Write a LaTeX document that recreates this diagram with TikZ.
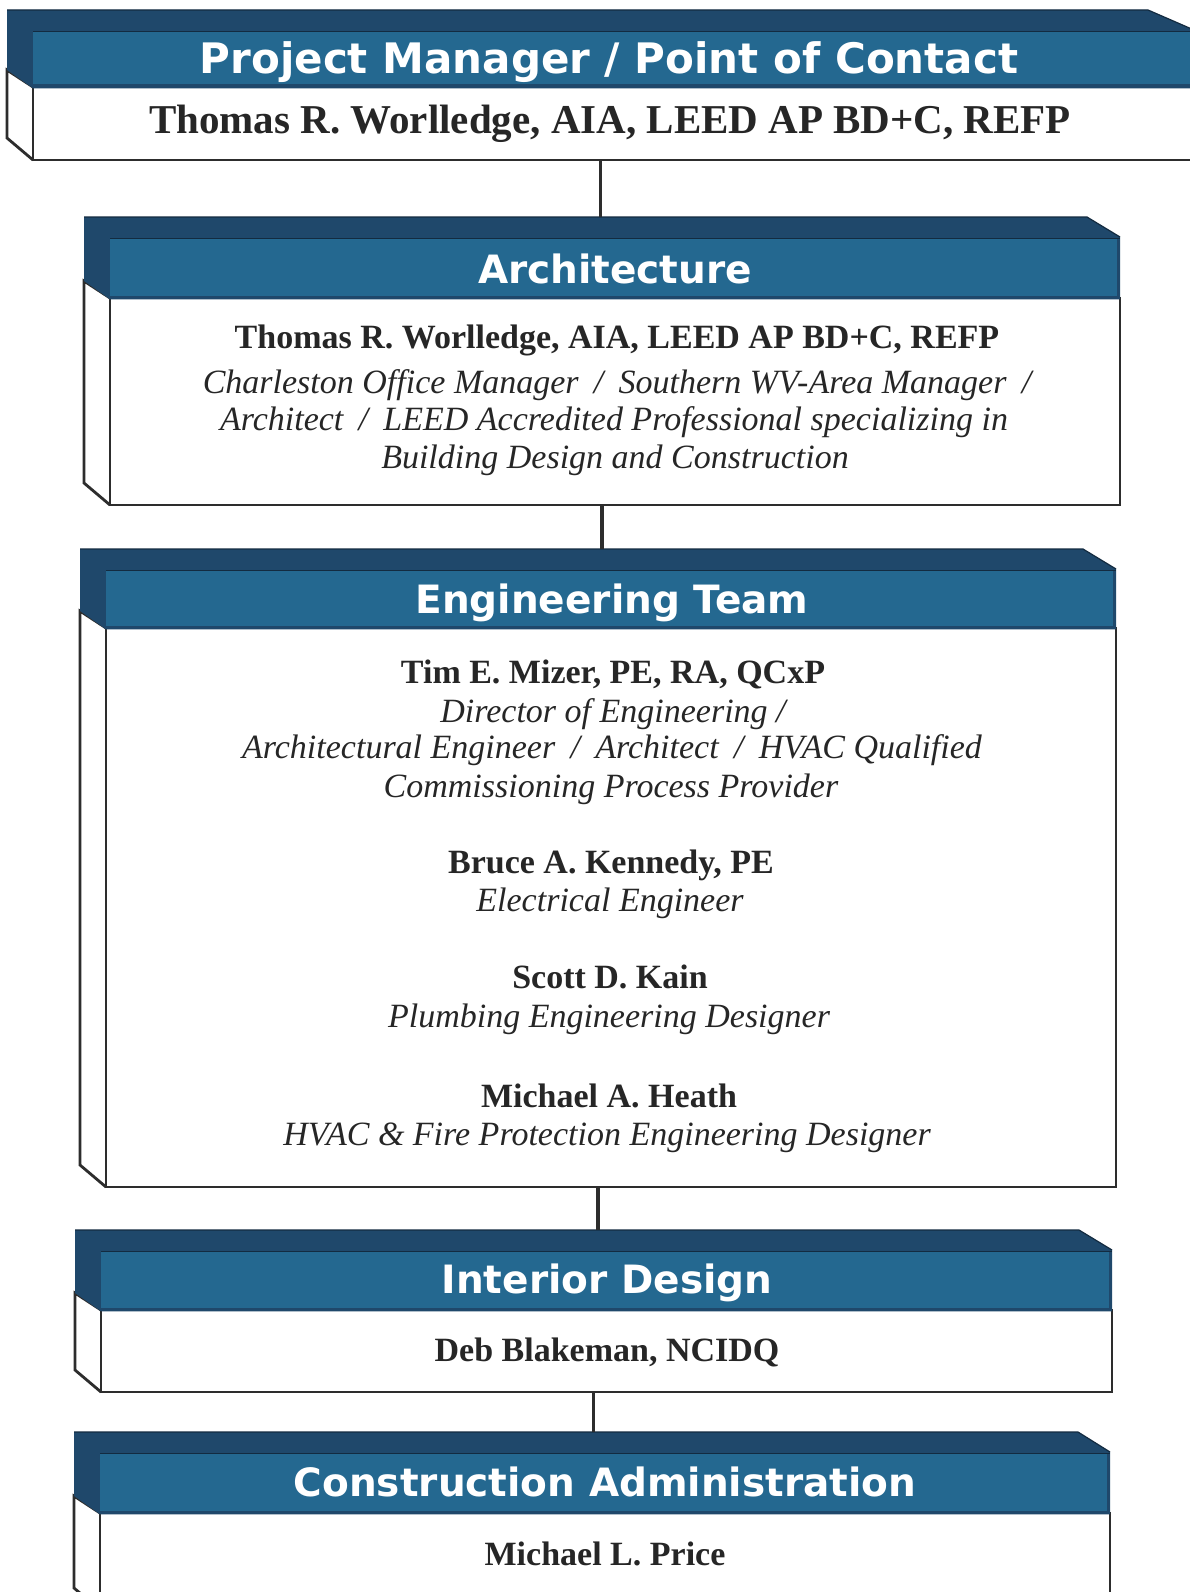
\documentclass[tikz,border=0pt]{standalone}
\usepackage{fontspec}
\setmainfont{Liberation Serif}
\newfontfamily\hdfont{DejaVu Sans}
\usetikzlibrary{fit}
\definecolor{hdblue}{RGB}{36,104,144}
\definecolor{topblue}{RGB}{31,72,107}
\definecolor{edgegray}{RGB}{45,45,45}
\definecolor{inkgray}{RGB}{38,38,38}
\tikzset{
  outline/.style={draw=edgegray, line width=2.8pt, line join=miter},
  hdtext/.style={text=white, font=\hdfont\bfseries\fontsize{39}{42}\selectfont, anchor=base, inner sep=0pt},
  nm/.style={font=\bfseries\fontsize{34}{38}\selectfont, anchor=base, text=inkgray, inner sep=0pt},
  rl/.style={font=\itshape\fontsize{34}{38}\selectfont, anchor=base, text=inkgray, inner sep=0pt},
  link/.style={draw=edgegray, line width=3.2pt},
}
% name, L, R, T (front header top), Hb (header bottom), B (body bottom), chamfer
\newcommand{\orgbox}[7]{%
  \fill[white] (#2-26,#5-17) -- (#2,#5) -- (#2,#6) -- (#2-26,#6-22) -- cycle;
  \draw[outline, fill=white] (#2,#5) rectangle (#3,#6);
  \draw[outline] (#2,#5) -- (#2-26,#5-17) -- (#2-26,#6-22) -- (#2,#6);
  \fill[topblue] (#2-26,#4-20) -- (#3-#7,#4-20) -- (#3,#4) -- (#3,#5+1.3) -- (#2,#5+1.3) -- (#2-26,#5-17) -- cycle;
  \fill[hdblue] (#2,#4+2) rectangle (#3-3,#5-2.5);
  \draw[topblue!60!black, line width=1.2pt] (#2-26,#4-20) -- (#3-#7,#4-20) -- (#3,#4);
  \draw[topblue!60!black, line width=0.8pt] (#2,#4+1.5) -- (#3,#4+1.5);
  \node[fit={(#2-26,#4-20) (#3,#6)}, inner sep=0pt] (#1) {};
}
\begin{document}
\begin{tikzpicture}[x=1pt,y=-1pt]
\useasboundingbox (0,0) rectangle (1190,1592);
\clip (0,0) rectangle (1190,1592);
\fill[white] (0,0) rectangle (1190,1592);

% boxes
\orgbox{b1}{33}{1194}{30}{87}{160}{46}
\orgbox{b2}{110}{1120}{237}{298}{505}{33}
\orgbox{b3}{106}{1116}{569}{628}{1187}{33}
\orgbox{b4}{101}{1112}{1250}{1310}{1392}{33}
\orgbox{b5}{100}{1110}{1452}{1513}{1610}{32}

% connectors
\draw[link] (b1.south) -- (b1.south |- b2.north);
\draw[link] (b2.south) -- (b2.south |- b3.north);
\draw[link] (b3.south) -- (b3.south |- b4.north);
\draw[link] (b4.south) -- (b4.south |- b5.north);

% headers
\node[hdtext, font=\hdfont\bfseries\fontsize{42}{45}\selectfont] (h1) at (609,74) {Project Manager / Point of Contact};
\node[hdtext] (h2) at (615,283) {Architecture};
\node[hdtext] (h3) at (612,613) {Engineering Team};
\node[hdtext] (h4) at (607,1293) {Interior Design};
\node[hdtext] (h5) at (605,1496) {Construction Administration};

% box 1
\node[nm, font=\bfseries\fontsize{41}{44}\selectfont] (p1) at (610,133) {Thomas R. Worlledge, AIA, LEED AP BD+C, REFP};

% box 2
\node[nm] (p2) at (617,348) {Thomas R. Worlledge, AIA, LEED AP BD+C, REFP};
\node[rl] (r2a) at (617,393) {Charleston Office Manager\hspace{0.45em}/\hspace{0.45em}Southern WV-Area Manager\hspace{0.45em}/};
\node[rl] (r2b) at (614,430) {Architect\hspace{0.45em}/\hspace{0.45em}LEED Accredited Professional specializing in};
\node[rl] (r2c) at (615,468) {Building Design and Construction};

% box 3
\node[nm] (p3) at (613,683) {Tim E. Mizer, PE, RA, QCxP};
\node[rl] (r3a) at (613,722) {Director of Engineering /};
\node[rl] (r3b) at (612,758) {Architectural Engineer\hspace{0.45em}/\hspace{0.45em}Architect\hspace{0.45em}/\hspace{0.45em}HVAC Qualified};
\node[rl] (r3c) at (611,797) {Commissioning Process Provider};
\node[nm] (p4) at (611,873) {Bruce A. Kennedy, PE};
\node[rl] (r4) at (610,911) {Electrical Engineer};
\node[nm] (p5) at (610,988) {Scott D. Kain};
\node[rl] (r5) at (609,1027) {Plumbing Engineering Designer};
\node[nm] (p6) at (609,1107) {Michael A. Heath};
\node[rl] (r6) at (607,1145) {HVAC \& Fire Protection Engineering Designer};

% box 4
\node[nm] (p7) at (607,1361) {Deb Blakeman, NCIDQ};

% box 5
\node[nm] (p8) at (605,1565) {Michael L. Price};
\end{tikzpicture}
\end{document}
